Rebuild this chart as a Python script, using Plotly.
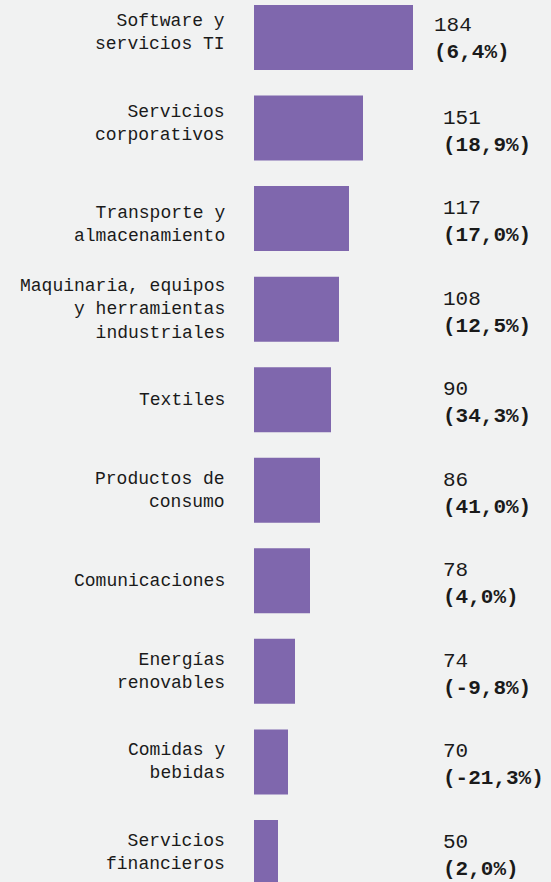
import plotly.graph_objects as go

categories = [
    "Software y<br>servicios TI",
    "Servicios<br>corporativos",
    "Transporte y<br>almacenamiento",
    "Maquinaria, equipos<br>y herramientas<br>industriales",
    "Textiles",
    "Productos de<br>consumo",
    "Comunicaciones",
    "Energías<br>renovables",
    "Comidas y<br>bebidas",
    "Servicios<br>financieros",
]
bar_values = [159, 109, 95, 85, 77, 66, 56, 41, 34, 24]
counts = [184, 151, 117, 108, 90, 86, 78, 74, 70, 50]
changes = ["6,4%", "18,9%", "17,0%", "12,5%", "34,3%", "41,0%", "4,0%", "-9,8%", "-21,3%", "2,0%"]

# small per-row vertical nudges of the category labels (px, up positive)
label_nudge = [5.5, 5, -6, 0, 0, 0, 0, 0, 0, 0]

W, H = 551, 882
L = 254
BG = "#f1f2f2"
PURPLE = "#7f67ad"
TXT = "#1a1a1a"
FONT = "Liberation Mono, DejaVu Sans Mono, monospace"

idx = list(range(len(categories)))

fig = go.Figure(go.Bar(
    x=bar_values, y=idx, orientation="h",
    marker=dict(color=PURPLE, line=dict(width=0)),
    width=0.718, hoverinfo="skip",
))

band = 90.55
c0 = 37.5
y_top = -c0 / band
y_bot = (H - c0) / band

annotations = []
for i, cat in enumerate(categories):
    annotations.append(dict(
        xref="paper", yref="y", x=0, y=i,
        xanchor="right", yanchor="middle", align="right",
        text=cat, showarrow=False, xshift=-27, yshift=label_nudge[i],
        font=dict(family=FONT, size=18, color=TXT),
    ))
for i, (n, ch) in enumerate(zip(counts, changes)):
    px = 432 if i == 0 else 441
    annotations.append(dict(
        xref="paper", yref="y", x=(px - L) / (W - L), y=i,
        xanchor="left", yanchor="middle", align="left",
        text=f"{n}<br><b>({ch})</b>", showarrow=False,
        font=dict(family=FONT, size=21, color=TXT),
        yshift=-1.5 if i == 0 else -3.5,
    ))

fig.update_layout(
    width=W, height=H,
    margin=dict(l=L, r=0, t=0, b=0, pad=0),
    paper_bgcolor=BG, plot_bgcolor=BG,
    showlegend=False,
    xaxis=dict(range=[0, W - L], visible=False, fixedrange=True),
    yaxis=dict(
        range=[y_bot, y_top], showticklabels=False,
        showgrid=False, zeroline=False, showline=False, ticks="",
        fixedrange=True,
    ),
    annotations=annotations,
)

fig.write_html(
    "out.html",
    config={"displayModeBar": False},
    post_script="document.body.style.margin='0';document.body.style.padding='0';"
                "document.body.style.background='%s';" % BG,
)
